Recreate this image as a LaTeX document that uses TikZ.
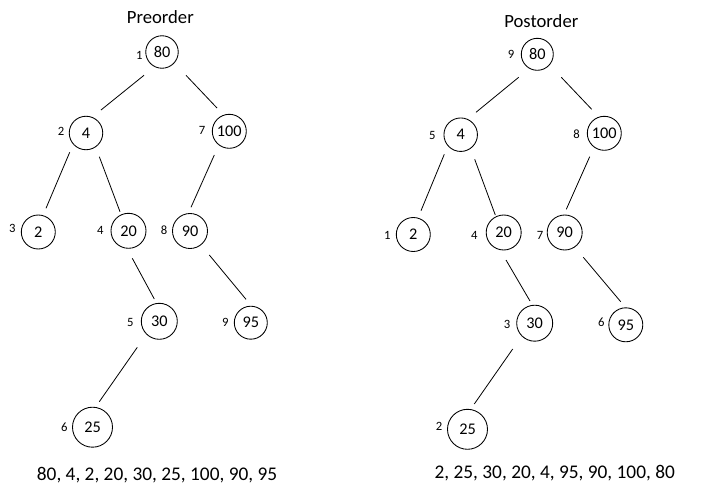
\documentclass[tikz,border=0pt]{standalone}
\usepackage{fontspec}
\setmainfont{Carlito}
\usetikzlibrary{calc}
\tikzset{
  tn/.style={draw, circle, line width=0.65pt, inner sep=0pt, minimum size=#1*0.75pt, font=\fontsize{12.2}{13}\selectfont},
  tn/.default=34,
  lbl/.style={inner sep=0pt, font=\fontsize{9.5}{11}\selectfont},
  ttl/.style={inner sep=0pt, anchor=base, font=\fontsize{14}{16}\selectfont},
  seq/.style={inner sep=0pt, anchor=base, font=\fontsize{14.5}{16}\selectfont},
  edge/.style={line width=0.6pt}
}
\newcommand{\conn}[6]{\draw[edge] ($(#1)+(#2,#3)$) -- ($(#4)+(#5,#6)$);}
\begin{document}
\begin{tikzpicture}[x=0.75pt, y=-0.75pt]
\useasboundingbox (0,0) rectangle (704,500);
% ---------- Preorder ----------
\node[ttl] (t1) at (160.3,23) {Preorder};
\node[tn=32.5] (L80) at (162,52) {80};
\node[tn=33.5] (L4) at (86,133) {4};
\node[tn=34] (L100) at (229.3,131.3) {100};
\node[tn=34] (L2) at (38.3,232) {2};
\node[tn=35] (L20) at (128.5,230.8) {20};
\node[tn=35] (L90) at (190,231) {90};
\node[tn=36] (L30) at (159.3,321.3) {30};
\node[tn=33] (L95) at (250.8,322.7) {95};
\node[tn=40] (L25) at (92.5,427.2) {25};
\node[lbl] (l1) at (139.3,55.7) {1};
\node[lbl] (l2) at (61,131.7) {2};
\node[lbl] (l7) at (202,130) {7};
\node[lbl] (l3) at (12.3,228.3) {3};
\node[lbl] (l4) at (100.3,230.7) {4};
\node[lbl] (l8) at (164,230.7) {8};
\node[lbl] (l5) at (130.3,322) {5};
\node[lbl] (l9) at (225.3,322) {9};
\node[lbl] (l6) at (64.3,427.7) {6};
\conn{L80}{-18}{23.3}{L4}{15}{-23}
\conn{L80}{24}{23.3}{L100}{-12.3}{-23.3}
\conn{L4}{-16.3}{19.3}{L2}{7.7}{-23.7}
\conn{L4}{13.3}{23.7}{L20}{-8.5}{-19.1}
\conn{L100}{-15}{23.7}{L90}{1}{-23.7}
\conn{L20}{3.8}{27.5}{L30}{-5}{-22.3}
\conn{L90}{19.3}{24}{L95}{-4.8}{-23.4}
\conn{L30}{-22}{26}{L25}{6.8}{-25.5}
\node[seq] (s1) at (157,480.3) {80, 4, 2, 20, 30, 25, 100, 90, 95};
% ---------- Postorder ----------
\node[ttl] (t2) at (541.3,27) {Postorder};
\node[tn=32] (R80) at (537.3,54.3) {80};
\node[tn=33.5] (R4) at (460.7,134.7) {4};
\node[tn=34] (R100) at (604.3,133.3) {100};
\node[tn=34] (R2) at (413.3,234.5) {2};
\node[tn=35] (R20) at (503.7,232.5) {20};
\node[tn=35] (R90) at (564.7,232.5) {90};
\node[tn=36] (R30) at (534.7,323.2) {30};
\node[tn=34] (R95) at (625.8,324.8) {95};
\node[tn=40] (R25) at (467.5,429.3) {25};
\node[lbl] (r9) at (511,54.3) {9};
\node[lbl] (r5) at (432.3,135) {5};
\node[lbl] (r8) at (576.7,134.3) {8};
\node[lbl] (r1) at (387.3,235) {1};
\node[lbl] (r4) at (474.3,235) {4};
\node[lbl] (r7) at (540,235) {7};
\node[lbl] (r3) at (507,324) {3};
\node[lbl] (r6) at (601.3,322.7) {6};
\node[lbl] (r2) at (439,426) {2};
\conn{R80}{-18.6}{23}{R4}{15.3}{-22.4}
\conn{R80}{24}{23}{R100}{-12.6}{-24}
\conn{R4}{-16.4}{19.6}{R2}{7.7}{-23.8}
\conn{R4}{14}{24.6}{R20}{-8.4}{-17.5}
\conn{R100}{-14.6}{23.4}{R90}{1.6}{-23.2}
\conn{R20}{2.3}{27.5}{R30}{-4.7}{-22.2}
\conn{R90}{18.6}{24.8}{R95}{-5.1}{-23.1}
\conn{R30}{-22}{25.8}{R25}{6.8}{-25.3}
\node[seq] (s2) at (554.7,478.7) {2, 25, 30, 20, 4, 95, 90, 100, 80};
\end{tikzpicture}
\end{document}
